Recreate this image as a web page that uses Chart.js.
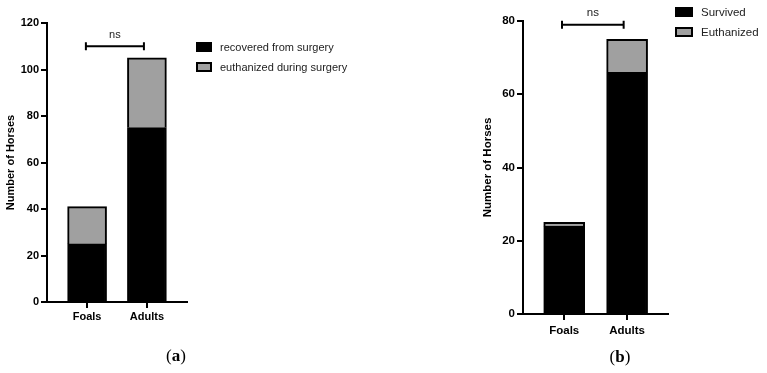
<!DOCTYPE html>
<html lang="en">
<head>
<meta charset="UTF-8">
<title>Number of Horses - Foals vs Adults</title>
<script src="https://cdn.jsdelivr.net/npm/chart.js"></script>
<style>
    body { margin: 0; background: #fff; font-family: "Liberation Sans", Arial, sans-serif; }
    .wrap { position: relative; width: 767px; height: 373px; overflow: hidden; }
    canvas { position: absolute; top: 0; }
    #chartA { left: 0; }
    #chartB { left: 477px; }
    .legend { position: absolute; color: #222; }
    .legend .item { position: absolute; left: 0; white-space: nowrap; display: flex; align-items: center; height: 14px; }
    .legend .box { box-sizing: border-box; border: 2px solid #000; margin-right: 8px; }
    .panel-label { position: absolute; transform: translate(-50%, -50%); font-family: "Liberation Serif", "Times New Roman", serif; font-size: 17px; color: #000; }
</style>
</head>
<body>
<div class="wrap">
    <canvas id="chartA" width="380" height="373"></canvas>
    <canvas id="chartB" width="290" height="373"></canvas>
    <div class="legend" id="legendA" style="left:196px; top:40px; font-size:11px;"></div>
    <div class="legend" id="legendB" style="left:675px; top:5px; font-size:11.5px;"></div>
    <div class="panel-label" style="left:176px; top:356px;">(<b>a</b>)</div>
    <div class="panel-label" style="left:620px; top:357px;">(<b>b</b>)</div>
</div>

<script>
    // categories shared by both panels
    const categories = ['Foals', 'Adults'];

    // panel (a)
    const seriesA = ['recovered from surgery', 'euthanized during surgery'];
    const recoveredA = [25, 75];
    const euthanizedA = [16, 30];
    const yTicksA = [0, 20, 40, 60, 80, 100, 120];
    const sigA = { text: 'ns', from: 0.98, to: 1.95, level: 110 };

    // panel (b)
    const seriesB = ['Survived', 'Euthanized'];
    const survivedB = [24, 66];
    const euthanizedB = [1, 9];
    const yTicksB = [0, 20, 40, 60, 80];
    const sigB = { text: 'ns', from: 0.965, to: 1.945, level: 79 };

    const colors = ['#000000', '#a0a0a0'];
    const fontFamily = '"Liberation Sans", Arial, sans-serif';

    // significance bracket drawn on top of the bars
    const sigBracket = {
        id: 'sigBracket',
        afterDatasetsDraw(chart, args, opts) {
            const { ctx, scales: { x, y } } = chart;
            const x1 = x.getPixelForValue(opts.from);
            const x2 = x.getPixelForValue(opts.to);
            const yy = y.getPixelForValue(opts.level);
            ctx.save();
            ctx.strokeStyle = '#000';
            ctx.lineWidth = 2;
            ctx.beginPath();
            ctx.moveTo(x1, yy); ctx.lineTo(x2, yy);
            ctx.moveTo(x1, yy - 4); ctx.lineTo(x1, yy + 4);
            ctx.moveTo(x2, yy - 4); ctx.lineTo(x2, yy + 4);
            ctx.stroke();
            ctx.font = opts.fontSize + 'px ' + fontFamily;
            ctx.fillStyle = '#222';
            ctx.textAlign = 'center';
            ctx.textBaseline = 'middle';
            ctx.fillText(opts.text, (x1 + x2) / 2, yy - 11.5);
            ctx.restore();
        }
    };

    function toPoints(values) {
        return values.map((v, i) => ({ x: i + 1, y: v }));
    }

    function makeChart(id, p) {
        const ctx = document.getElementById(id).getContext('2d');
        return new Chart(ctx, {
            type: 'bar',
            data: {
                datasets: p.series.map((label, i) => ({
                    label: label,
                    data: toPoints(p.values[i]),
                    backgroundColor: colors[i],
                    borderColor: '#000',
                    borderWidth: 2,
                    barThickness: p.barThickness
                }))
            },
            options: {
                responsive: false,
                animation: false,
                layout: { padding: p.padding },
                plugins: {
                    legend: { display: false },
                    tooltip: { enabled: false },
                    sigBracket: Object.assign({ fontSize: p.fontSize }, p.sig)
                },
                scales: {
                    x: {
                        type: 'linear',
                        stacked: true,
                        offset: false,
                        min: p.xMin,
                        max: p.xMax,
                        afterBuildTicks: (scale) => {
                            scale.ticks = categories.map((c, i) => ({ value: i + 1 }));
                        },
                        afterFit: (scale) => { scale.height = p.xHeight; },
                        ticks: {
                            callback: (v) => categories[v - 1],
                            color: '#000',
                            padding: p.xPad,
                            autoSkip: false,
                            maxRotation: 0,
                            font: { family: fontFamily, size: p.fontSize, weight: 'bold' }
                        },
                        grid: { offset: false, drawOnChartArea: false, color: '#000', lineWidth: 2, tickLength: 6 },
                        border: { display: true, color: '#000', width: 2 }
                    },
                    y: {
                        stacked: true,
                        min: p.yTicks[0],
                        max: p.yTicks[p.yTicks.length - 1],
                        afterBuildTicks: (scale) => {
                            scale.ticks = p.yTicks.map(v => ({ value: v }));
                        },
                        afterFit: (scale) => { scale.width = p.yWidth; },
                        ticks: {
                            color: '#000',
                            padding: 2,
                            font: { family: fontFamily, size: p.fontSize, weight: 'bold' }
                        },
                        title: {
                            display: true,
                            text: 'Number of Horses',
                            color: '#000',
                            font: { family: fontFamily, size: p.fontSize, weight: 'bold' }
                        },
                        grid: { drawOnChartArea: false, color: '#000', lineWidth: 2, tickLength: 6 },
                        border: { display: true, color: '#000', width: 2 }
                    }
                }
            },
            plugins: [sigBracket]
        });
    }

    function buildLegend(id, labels, box, spacing) {
        const el = document.getElementById(id);
        labels.forEach((label, i) => {
            const item = document.createElement('div');
            item.className = 'item';
            item.style.top = (i * spacing) + 'px';
            const sw = document.createElement('span');
            sw.className = 'box';
            sw.style.width = box[0] + 'px';
            sw.style.height = box[1] + 'px';
            sw.style.background = colors[i];
            item.appendChild(sw);
            item.appendChild(document.createTextNode(label));
            el.appendChild(item);
        });
    }

    makeChart('chartA', {
        series: seriesA,
        values: [recoveredA, euthanizedA],
        yTicks: yTicksA,
        sig: sigA,
        xMin: 0.33, xMax: 2.67,
        barThickness: 39,
        fontSize: 11,
        xPad: 2,
        padding: { top: 23, right: 193, bottom: 0, left: 0 },
        yWidth: 47,
        xHeight: 71
    });

    makeChart('chartB', {
        series: seriesB,
        values: [survivedB, euthanizedB],
        yTicks: yTicksB,
        sig: sigB,
        xMin: 0.345, xMax: 2.65,
        barThickness: 41,
        fontSize: 11.5,
        xPad: 4,
        padding: { top: 21, right: 99, bottom: 0, left: 0 },
        yWidth: 46,
        xHeight: 59
    });

    buildLegend('legendA', seriesA, [16, 10], 19.5);
    buildLegend('legendB', seriesB, [18, 10], 20.4);
</script>
</body>
</html>
